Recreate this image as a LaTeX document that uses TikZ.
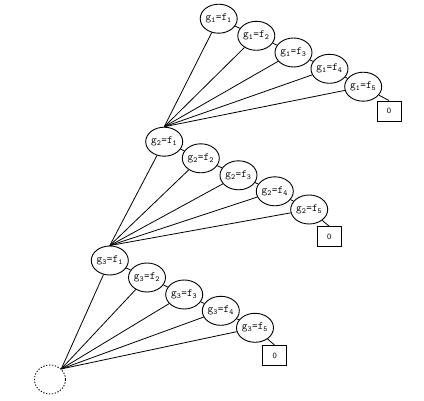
\documentclass[tikz,border=0pt]{standalone}
\usetikzlibrary{shapes.geometric}
\tikzset{
  gnode/.style={draw, ellipse, minimum width=31pt, minimum height=29pt, inner sep=0pt, line width=0.9pt, font=\ttfamily\fontsize{11}{11}\selectfont},
  zbox/.style={draw, rectangle, minimum width=24pt, minimum height=20pt, inner sep=0pt, line width=0.9pt, font=\sffamily\fontsize{8}{8}\selectfont},
  rootnode/.style={draw, ellipse, dash pattern=on 1.3pt off 1.6pt, minimum width=31pt, minimum height=29pt, line width=0.9pt},
  conn/.style={line width=0.8pt}
}
\newcommand{\gf}[2]{g\textsubscript{#1}=f\textsubscript{#2}}
\begin{document}
\begin{tikzpicture}[x=1pt,y=-1pt]
\useasboundingbox (0,0) rectangle (424,401);
% level 1
\node[gnode] (a1) at (218.7,18.7) {\gf{1}{1}};
\node[gnode] (a2) at (256.3,35.8) {\gf{1}{2}};
\node[gnode] (a3) at (293.5,52.5) {\gf{1}{3}};
\node[gnode] (a4) at (329.5,68.8) {\gf{1}{4}};
\node[gnode] (a5) at (363.2,86.7) {\gf{1}{5}};
\node[zbox] (a0) at (389,111) {0};
% level 2
\node[gnode] (b1) at (164.2,141.7) {\gf{2}{1}};
\node[gnode] (b2) at (200.8,158.3) {\gf{2}{2}};
\node[gnode] (b3) at (238.5,175.3) {\gf{2}{3}};
\node[gnode] (b4) at (274.8,191.3) {\gf{2}{4}};
\node[gnode] (b5) at (309.2,209.5) {\gf{2}{5}};
\node[zbox] (b0) at (329.2,236.7) {0};
% level 3
\node[gnode] (c1) at (109.8,260.5) {\gf{3}{1}};
\node[gnode] (c2) at (147.0,277.5) {\gf{3}{2}};
\node[gnode] (c3) at (184.2,294.5) {\gf{3}{3}};
\node[gnode] (c4) at (220.8,310.8) {\gf{3}{4}};
\node[gnode] (c5) at (255,327.8) {\gf{3}{5}};
\node[zbox] (c0) at (274.8,355.8) {0};
% root
\node[rootnode] (r) at (50,379.5) {};
% chains
\foreach \l in {a,b,c}{
  \draw[conn] (\l1) -- (\l2);
  \draw[conn] (\l2) -- (\l3);
  \draw[conn] (\l3) -- (\l4);
  \draw[conn] (\l4) -- (\l5);
  \draw[conn] (\l5) -- (\l0.north);
}
% fans
\foreach \k in {1,...,5}{
  \draw[conn] (r.north east) -- (c\k);
  \draw[conn] (c1.north) -- (b\k);
  \draw[conn] (b1.north) -- (a\k);
}
\end{tikzpicture}
\end{document}
